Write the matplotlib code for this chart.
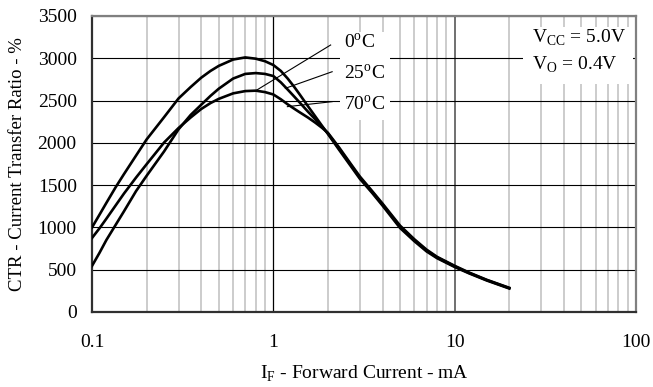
import matplotlib
matplotlib.use('Agg')
import matplotlib.pyplot as plt
from matplotlib.patches import Rectangle

plt.rcParams['font.family'] = 'Liberation Serif'
plt.rcParams['mathtext.fontset'] = 'custom'
plt.rcParams['mathtext.rm'] = 'Liberation Serif'

# forward current (mA) and CTR (%)
current = [0.1, 0.11, 0.12, 0.135, 0.15, 0.175, 0.2, 0.25, 0.3, 0.35, 0.4, 0.45, 0.5,
           0.6, 0.7, 0.8, 0.9, 1.0, 1.1, 1.2, 1.3, 1.4, 1.55, 1.7, 1.85, 2.0, 2.3, 2.7,
           3.0, 3.5, 4.0, 5.0, 6.0, 7.0, 8.0, 10, 12, 15, 20]
ctr_0c = [1000, 1151, 1290, 1475, 1630, 1850, 2040, 2305, 2525, 2660, 2770, 2850, 2910,
          2985, 3010, 2995, 2965, 2920, 2850, 2760, 2665, 2570, 2435, 2315, 2205, 2105,
          1920, 1712, 1575, 1410, 1258, 993, 836, 716, 636, 532, 457, 373, 278]
ctr_25c = [545, 700, 851, 1030, 1190, 1430, 1610, 1900, 2160, 2330, 2450, 2555, 2640,
           2760, 2815, 2825, 2815, 2790, 2715, 2630, 2550, 2475, 2370, 2280, 2195, 2112,
           1935, 1726, 1590, 1422, 1270, 1008, 848, 728, 645, 540, 462, 378, 282]
ctr_70c = [875, 990, 1103, 1260, 1400, 1590, 1747, 2005, 2175, 2300, 2400, 2470, 2520,
           2585, 2612, 2617, 2600, 2572, 2515, 2455, 2405, 2360, 2300, 2240, 2180, 2118,
           1948, 1738, 1602, 1432, 1282, 1021, 859, 737, 652, 546, 467, 381, 286]

temp_labels = ['0$^\\mathregular{o}$C', '25$^\\mathregular{o}$C', '70$^\\mathregular{o}$C']
y_ticks = [0, 500, 1000, 1500, 2000, 2500, 3000, 3500]
x_ticks = [0.1, 1, 10, 100]
x_tick_labels = ['0.1', '1', '10', '100']

fig = plt.figure(figsize=(6.53, 3.87), dpi=100)
ax = fig.add_axes([0.1409, 0.1938, 0.8331, 0.7649])

ax.set_xscale('log')
ax.set_xlim(0.1, 100)
ax.set_ylim(0, 3500)
ax.set_xticks(x_ticks)
ax.set_xticklabels(x_tick_labels)
ax.set_yticks(y_ticks)
ax.tick_params(axis='both', which='both', length=0, labelsize=14)
ax.tick_params(axis='x', pad=16)
ax.tick_params(axis='y', pad=11)

# grid
ax.grid(True, axis='x', which='minor', color='#c8c8c8', lw=1.3, zorder=0)
ax.grid(True, axis='y', which='major', color='black', lw=0.8, zorder=0)
ax.axvline(1, color='black', lw=0.9, zorder=0.5)
ax.axvline(10, color='#707070', lw=1.4, zorder=0.5)
ax.set_axisbelow(True)

for side in ['left', 'bottom']:
    ax.spines[side].set_color('#303030')
    ax.spines[side].set_linewidth(1.6)
for side in ['top', 'right']:
    ax.spines[side].set_color('#808080')
    ax.spines[side].set_linewidth(1.6)

# white boxes behind the annotations
ax.add_patch(Rectangle((0.456, 0.649), 0.092, 0.297, transform=ax.transAxes,
                       facecolor='white', edgecolor='none', zorder=1))
ax.add_patch(Rectangle((0.792, 0.770), 0.202, 0.193, transform=ax.transAxes,
                       facecolor='white', edgecolor='none', zorder=1))

for vals in [ctr_0c, ctr_25c, ctr_70c]:
    ax.plot(current, vals, color='black', lw=1.9, zorder=3)

# leader lines and labels
leaders = [((2.07, 3157), (0.80, 2617)),
           ((2.11, 2841), (1.165, 2645)),
           ((2.11, 2487), (1.195, 2428))]
label_y = [3180, 2814, 2448]
for (p0, p1), ly, lab in zip(leaders, label_y, temp_labels):
    ax.plot([p0[0], p1[0]], [p0[1], p1[1]], color='black', lw=0.8, zorder=2)
    ax.text(2.44, ly, lab, fontsize=14, va='center', ha='left', zorder=4)

ax.text(0.809, 0.926, 'V$_\\mathregular{CC}$ = 5.0V', transform=ax.transAxes,
        fontsize=14, va='center', ha='left', zorder=4)
ax.text(0.809, 0.834, 'V$_\\mathregular{O}$ = 0.4V', transform=ax.transAxes,
        fontsize=14, va='center', ha='left', zorder=4)

ax.set_xlabel('I$_\\mathregular{F}$ - Forward Current - mA', fontsize=14, labelpad=9)
ax.set_ylabel('CTR - Current Transfer Ratio - %', fontsize=13.5, labelpad=8)

fig.savefig('out.png', dpi=100)
